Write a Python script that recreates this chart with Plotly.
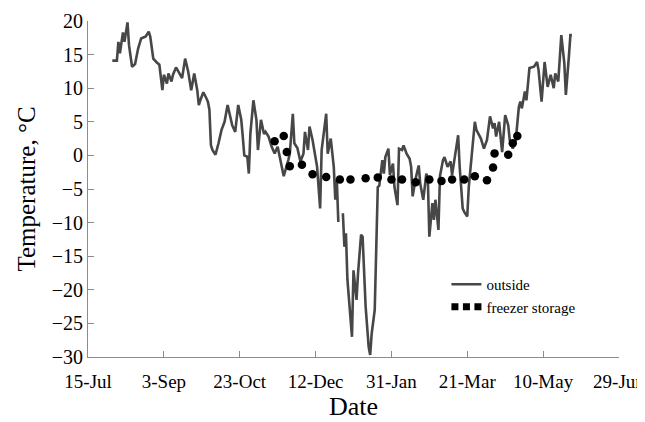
import pandas as pd
import plotly.graph_objects as go

# Season start (day 0 of the x axis)
season_start = "2011-07-15"

# Outside air temperature: days since 15-Jul and temperature (°C); None = gap
outside_days = [16, 19, 20, 21, 23, 24, 26, 27, 29, 31, 33, 35, 38, 40, 41, 43, 45, 47, 49, 50,
                52, 53, 55, 56, 58, 59, 62, 64, 66, 68, 70, 72, 73, 74, 76, 78, 79, 80, 81, 82,
                84, 86, 88, 90, 92, 95, 97, 99, 101, 102, 103, 105, 106, 107, 109, 111, 112, 114, 116, 117,
                119, 121, 123, 125, 128, 129, 132, 133, 135, 136, 138, 140, 142, 143, 145, 146, 148, 151, 153, 154,
                157, 158, 160, 162, 163, 164, 165, 166, 168, 169, 170, 171, 174, 175, 177, 178, 180, 181, 183, 185,
                186, 187, 189, 190, 191, 192, 194, 195, 196, 198, 199, 201, 202, 204, 205, 207, 208, 210, 212, 213,
                214, 216, 218, 219, 221, 223, 224, 225, 227, 228, 229, 231, 232, 234, 235, 237, 239, 240, 242, 244,
                245, 247, 248, 250, 251, 253, 255, 256, 258, 259, 261, 263, 265, 267, 268, 269, 271, 272, 273, 275,
                277, 278, 280, 282, 284, 285, 286, 288, 289, 291, 294, 296, 297, 299, 301, 303, 305, 307, 308, 310,
                312, 314, 315, 317, 318, 319]
outside_temp = [14.1, 14.1, 16.9, 15.2, 18.3, 16.9, 19.8, 16.4, 13.2, 13.6, 15.9, 17.4, 17.7, 18.4, 17.7, 14.4, 13.9, 13.5, 9.7, 12.0,
                10.7, 12.2, 11.0, 12.0, 13.1, 12.7, 11.5, 14.4, 12.5, 9.7, 12.2, 9.7, 7.5, 8.2, 9.4, 8.5, 8.0, 6.8, 1.5, 0.8,
                0.1, 1.8, 3.8, 5.0, 7.5, 4.5, 3.5, 7.5, 5.3, 2.8, 0.0, -0.2, -2.7, 3.2, 8.2, 5.3, 0.8, 5.3, 3.2, 3.5,
                2.8, 1.3, 0.3, 1.3, -1.7, -3.1, -0.7, 0.25, 6.2, 1.8, 1.1, -0.9, 0.25, 3.5, 0.8, 4.3, 2.3, -1.7, -7.9, 0.8,
                6.2, 0.25, 2.5, -1.7, -6.6, -3.7, -9.9, None, -8.6, -13.6, -11.6, -18.5, -27.0, -17.1, -21.5, -17.5, -11.8, -12.1, -22.5, -28.5,
                -29.7, -26.5, -23.0, -14.0, -4.7, -4.5, -0.7, -2.7, -0.25, 1.0, -2.9, -1.2, -4.7, -7.4, 1.0, 0.8, 1.5, 0.25, -0.5, -1.7,
                -6.1, -3.4, -1.5, -4.2, -6.6, -2.7, -3.4, -12.1, -7.1, -9.6, -6.6, -11.1, -3.1, -0.7, -0.25, -1.7, -0.9, -2.9, 0.0, 3.0,
                -1.7, -7.9, -8.4, -9.1, -4.7, 0.25, 5.0, 3.8, 3.0, 2.5, 1.0, 2.3, 5.8, 4.0, 4.8, 2.8, 5.0, 2.3, 0.5, 6.0,
                4.5, 2.3, 1.0, 2.3, 7.2, 8.0, 7.0, 9.5, 8.2, 13.0, 13.2, 13.9, 12.7, 8.0, 13.9, 10.2, 12.0, 10.0, 12.2, 11.0,
                17.9, 13.7, 9.0, 14.7, 17.9, 17.9]

# Freezer storage temperature
freezer_days = [123, 129, 131, 133, 141, 148, 157, 166, 173, 183, 191, 200, 207, 216, 225, 233, 240, 248, 255, 263,
                267, 268, 277, 280, 283]
freezer_temp = [2.1, 2.9, 0.5, -1.6, -1.4, -2.8, -3.2, -3.6, -3.6, -3.4, -3.3, -3.6, -3.6, -4.0, -3.6, -3.8, -3.6, -3.6, -3.1, -3.7,
                -1.8, 0.3, 0.1, 1.8, 2.9]

# Axis ticks
tick_labels = ["15-Jul", "3-Sep", "23-Oct", "12-Dec", "31-Jan", "21-Mar", "10-May", "29-Jun"]
tick_step_days = 50
y_range = [-30, 20]

base = pd.Timestamp(season_start)
outside_dates = [base + pd.Timedelta(days=d) for d in outside_days]
freezer_dates = [base + pd.Timedelta(days=d) for d in freezer_days]
tick_dates = [base + pd.Timedelta(days=tick_step_days * i) for i in range(len(tick_labels))]
x_range = [tick_dates[0] - pd.Timedelta(hours=1), tick_dates[-1] + pd.Timedelta(hours=1)]

FONT = "Liberation Serif, Times New Roman, serif"
AXIS_GREY = "#8c8c8c"

fig = go.Figure()
fig.add_trace(go.Scatter(
    x=outside_dates, y=outside_temp, mode="lines", name="outside",
    line=dict(color="#474747", width=2.6), connectgaps=False, showlegend=True,
))
fig.add_trace(go.Scatter(
    x=freezer_dates, y=freezer_temp, mode="markers", name="freezer storage",
    marker=dict(color="black", size=8.5), showlegend=False,
))
# legend-only entry drawn as a dotted line
fig.add_trace(go.Scatter(
    x=[None], y=[None], mode="lines", name="freezer storage",
    line=dict(color="black", width=7, dash="7px,4.5px"), showlegend=True,
))

# the page body adds an 8px margin, so the margins are set to compensate
fig.update_layout(
    width=645, height=414,
    margin=dict(l=80, r=34, t=13, b=65),
    paper_bgcolor="white", plot_bgcolor="white",
    font=dict(family=FONT, size=19, color="black"),
    showlegend=True,
    legend=dict(x=0.675, y=0.265, xanchor="left", yanchor="top",
                font=dict(family=FONT, size=15, color="black"),
                bgcolor="rgba(0,0,0,0)", tracegroupgap=0),
    xaxis=dict(
        type="date", automargin=False,
        range=x_range,
        tickvals=tick_dates, ticktext=tick_labels,
        showgrid=False, zeroline=False,
        showline=True, linecolor=AXIS_GREY, linewidth=1,
        ticks="inside", ticklen=6, tickcolor=AXIS_GREY,
        tickfont=dict(family=FONT, size=19), ticklabelstandoff=7,
        ticklabeloverflow="allow",
        title=dict(text="Date", font=dict(family=FONT, size=26), standoff=4),
    ),
    yaxis=dict(
        automargin=False,
        range=y_range, dtick=5, tick0=0,
        showgrid=False, zeroline=False,
        showline=True, linecolor=AXIS_GREY, linewidth=1,
        ticks="inside", ticklen=6, tickcolor=AXIS_GREY,
        tickfont=dict(family=FONT, size=20),
        title=dict(text="Temperature, °C", font=dict(family=FONT, size=25), standoff=8),
    ),
)

fig.write_html("out.html")
